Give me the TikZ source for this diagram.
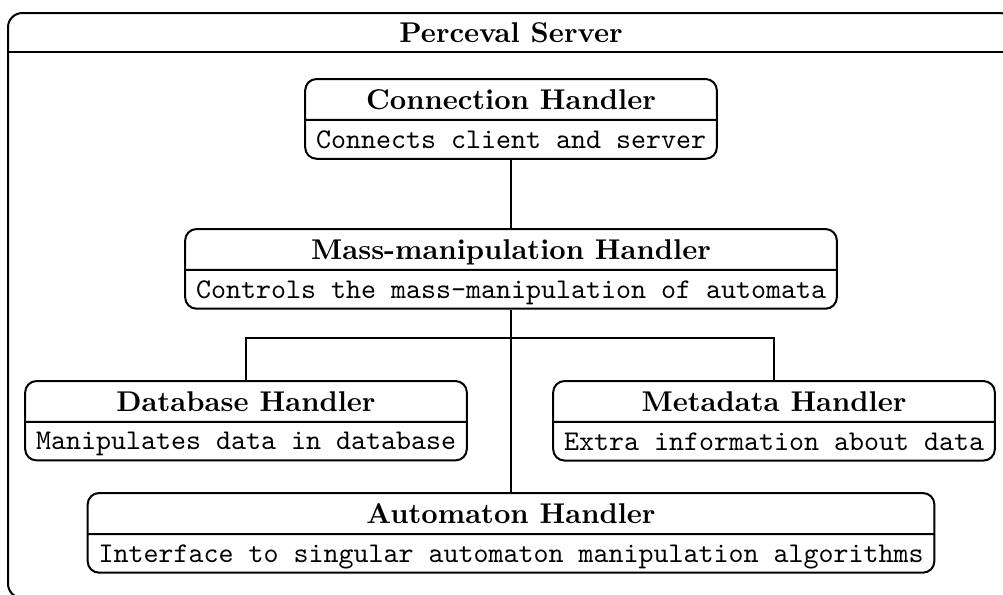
\documentclass[tikz,border=0pt]{standalone}
\usetikzlibrary{shapes.multipart,positioning}

% text without depth, so all parts are equally tall
\newcommand{\hname}[1]{\raisebox{0pt}[\height][0pt]{\textbf{#1}}}
\newcommand{\hdesc}[1]{\raisebox{0pt}[\height][0pt]{\texttt{#1}}}

\begin{document}
\begin{tikzpicture}[x=0.35pt,y=-0.35pt,line width=0.7pt,
  handler/.style={rectangle split, rectangle split parts=2,
    draw, rounded corners=4pt, align=center, inner xsep=3.8pt}]
% page frame, the server box runs off the right edge
\useasboundingbox (0,0) rectangle (1003,594);
\clip (0,0) rectangle (1003,594);

% server box
\draw[rounded corners=5pt] (8,13) rectangle (1014,598);
\draw (8,52) -- (1014,52);
\node (server) at (511,33) {\textbf{Perceval Server}};

% handlers
\node[handler, anchor=north] (conn) at (511,78)
  {\hname{Connection Handler}
   \nodepart{second}\hdesc{Connects client and server}};
\node[handler, anchor=north] (mass) at (511,228)
  {\hname{Mass-manipulation Handler}
   \nodepart{second}\hdesc{Controls the mass-manipulation of automata}};
\node[handler, anchor=north] (db) at (246,380)
  {\hname{Database Handler}
   \nodepart{second}\hdesc{Manipulates data in database}};
\node[handler, anchor=north] (meta) at (774,380)
  {\hname{Metadata Handler}
   \nodepart{second}\hdesc{Extra information about data}};
\node[handler, anchor=north] (auto) at (511,492)
  {\hname{Automaton Handler}
   \nodepart{second}\hdesc{Interface to singular automaton manipulation algorithms}};

% connections
\coordinate (fork) at (511,338);
\draw (conn.south) -- (mass.north);
\draw (mass.south) -- (auto.north);
\draw (db.north) |- (fork) -| (meta.north);
\end{tikzpicture}
\end{document}
